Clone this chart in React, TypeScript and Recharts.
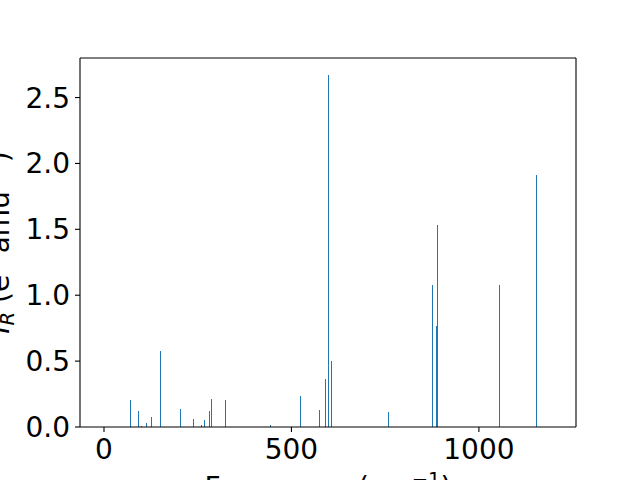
import { ComposedChart, Bar, XAxis, YAxis, ReferenceLine } from 'recharts';

// vibrational modes: frequency (cm^-1) and IR intensity (e^2 amu^-1)
const freqs = [70, 92, 100, 113, 126, 150, 204, 238, 260, 268, 281, 287, 323, 443, 524, 574, 592, 599, 606, 758, 876, 887, 889, 1056, 1153];
const intensities = [0.207, 0.124, 0.01, 0.033, 0.078, 0.578, 0.139, 0.058, 0.017, 0.055, 0.124, 0.214, 0.207, 0.017, 0.237, 0.131, 0.366, 2.67, 0.502, 0.116, 1.08, 0.765, 1.53, 1.08, 1.91];
const xTicks = [0, 500, 1000];
const yTicks = [0, 0.5, 1, 1.5, 2, 2.5];

const FONT = 'DejaVu Sans';
const SIZE = 28;
const X_DOMAIN = [-64, 1259];
const Y_DOMAIN = [0, 2.8];

const data = freqs.map((f, i) => ({ freq: f, ir: intensities[i] }));

const XTick = ({ x, payload }: any) => (
  <text x={x} y={459} textAnchor="middle" fontFamily={FONT} fontSize={SIZE} fill="#000">
    {payload.value}
  </text>
);

const YTick = ({ y, payload }: any) => (
  <text x={70} y={y + 10} textAnchor="end" fontFamily={FONT} fontSize={SIZE} fill="#000">
    {Number(payload.value).toFixed(1)}
  </text>
);

// snap each stick to a whole pixel so it renders crisp like matplotlib
const Stick = ({ x, y, width, height }: any) => {
  if (!height || height <= 0) return null;
  const px = Math.round(x + width / 2 - 0.5);
  return <rect x={px} y={y} width={1} height={height} fill="#1f77b4" shapeRendering="crispEdges" />;
};

export default function App() {
  return (
    <div style={{ position: 'absolute', left: 0, top: 0, width: 640, height: 480, background: '#fff' }}>
      <ComposedChart
        width={640}
        height={480}
        data={data}
        margin={{ top: 58, right: 64, bottom: 0, left: 0 }}
      >
        <XAxis
          dataKey="freq"
          type="number"
          domain={X_DOMAIN}
          ticks={xTicks}
          allowDataOverflow
          height={53}
          tickSize={5}
          tick={<XTick />}
          axisLine={{ stroke: '#000', strokeWidth: 1.1 }}
          tickLine={{ stroke: '#000', strokeWidth: 1.1 }}
        />
        <YAxis
          type="number"
          domain={Y_DOMAIN}
          ticks={yTicks}
          allowDataOverflow
          width={80}
          tickSize={5}
          tick={<YTick />}
          axisLine={{ stroke: '#000', strokeWidth: 1.1 }}
          tickLine={{ stroke: '#000', strokeWidth: 1.1 }}
        />
        <Bar dataKey="ir" barSize={1} shape={<Stick />} isAnimationActive={false} />
        <ReferenceLine y={Y_DOMAIN[1]} stroke="#000" strokeWidth={1.1} ifOverflow="visible" />
        <ReferenceLine x={X_DOMAIN[1]} stroke="#000" strokeWidth={1.1} ifOverflow="visible" />
        <text transform="rotate(-90)" x={-242.5} y={9} textAnchor="middle" fontFamily={FONT} fontSize={SIZE} fill="#000">
          <tspan fontStyle="italic">I</tspan>
          <tspan fontStyle="italic" fontSize={19.6} dy={5}>R</tspan>
          <tspan dy={-5}> (e</tspan>
          <tspan fontSize={19.6} dy={-11}>2</tspan>
          <tspan dy={11}> amu</tspan>
          <tspan fontSize={19.6} dy={-11}>−1</tspan>
          <tspan dy={11}>)</tspan>
        </text>
        <text x={328} y={497} textAnchor="middle" fontFamily={FONT} fontSize={SIZE} fill="#000">
          <tspan>Frequency (cm</tspan>
          <tspan fontSize={19.6} dy={-11}>−1</tspan>
          <tspan dy={11}>)</tspan>
        </text>
      </ComposedChart>
    </div>
  );
}
